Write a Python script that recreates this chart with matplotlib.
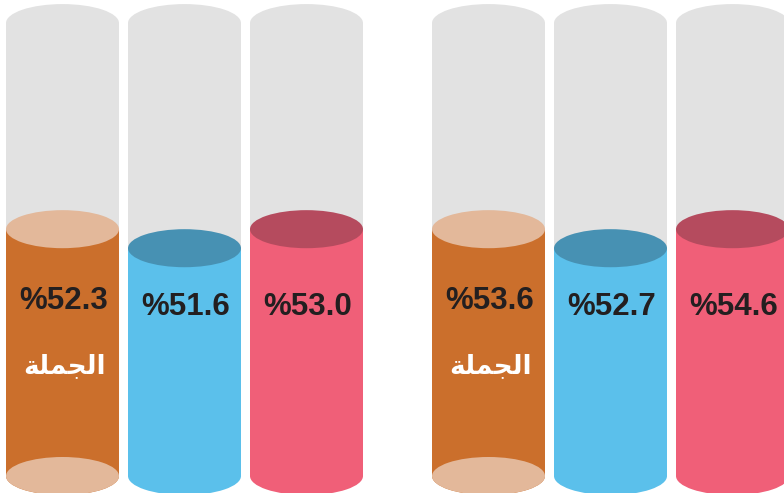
import matplotlib
matplotlib.use('Agg')
import matplotlib.pyplot as plt
from matplotlib.patches import Ellipse, Rectangle

# Datos (dos grupos de tres cilindros)
valores_g1 = [52.3, 51.6, 53.0]
valores_g2 = [53.6, 52.7, 54.6]
# nivel de llenado (0-100 de la altura del cilindro)
nivel_g1 = [54.5, 50.3, 54.5]
nivel_g2 = [54.5, 50.3, 54.5]
etiqueta_total = 'الجملة'

# Formas de presentacion (matplotlib no une letras arabes)
etiqueta_visual = '\ufe94\ufee0\ufee4\ufea0\ufedf\ufe8d'

color_cuerpo = ['#cb6f2c', '#5bc0eb', '#f05f78']
color_tapa = ['#e3b89a', '#4791b3', '#b54b5e']
color_base = ['#e3b89a', '#5bc0eb', '#f05f78']
color_gris = '#e2e2e2'

ancho = 113
ry = 4.2          # semi-altura de la elipse en unidades de y
paso = 122
inicio_grupo = [62.5, 488.5]
texto_y = [38.6, 37.3, 37.3]

fig = plt.figure(figsize=(7.84, 4.93), dpi=100)
ax = fig.add_axes([0, 0, 1, 1])
ax.set_xlim(0, 784)
ax.set_ylim(-3.75, 105.1)
ax.axis('off')

for g, (valores, niveles) in enumerate([(valores_g1, nivel_g1), (valores_g2, nivel_g2)]):
    for i in range(3):
        cx = inicio_grupo[g] + i * paso
        x0 = cx - ancho / 2
        nivel = niveles[i]
        # cilindro gris
        ax.add_patch(Rectangle((x0, 0), ancho, 100, facecolor=color_gris, edgecolor='none', zorder=1))
        ax.add_patch(Ellipse((cx, 100), ancho, 2 * ry, facecolor=color_gris, edgecolor='none', zorder=1))
        # parte llena
        ax.add_patch(Ellipse((cx, 0), ancho, 2 * ry, facecolor=color_cuerpo[i], edgecolor='none', zorder=2))
        ax.add_patch(Rectangle((x0, 0), ancho, nivel, facecolor=color_cuerpo[i], edgecolor='none', zorder=2))
        if i == 0:
            ax.add_patch(Ellipse((cx, 0), ancho, 2 * ry, facecolor=color_base[i], edgecolor='none', zorder=3))
        ax.add_patch(Ellipse((cx, nivel), ancho, 2 * ry, facecolor=color_tapa[i], edgecolor='none', zorder=3))
        ax.text(cx + 1, texto_y[i], f'%{valores[i]:.1f}', ha='center', va='center',
                fontsize=22.5, fontweight='bold', color='#231f20',
                family=['Liberation Sans', 'DejaVu Sans'], zorder=4)
        if i == 0:
            ax.text(cx + 2, 24.3, etiqueta_visual, ha='center', va='center',
                    fontsize=19, fontweight='bold', color='white',
                    family=['DejaVu Sans'], zorder=4)

fig.savefig('out.png', dpi=100, facecolor='white')
